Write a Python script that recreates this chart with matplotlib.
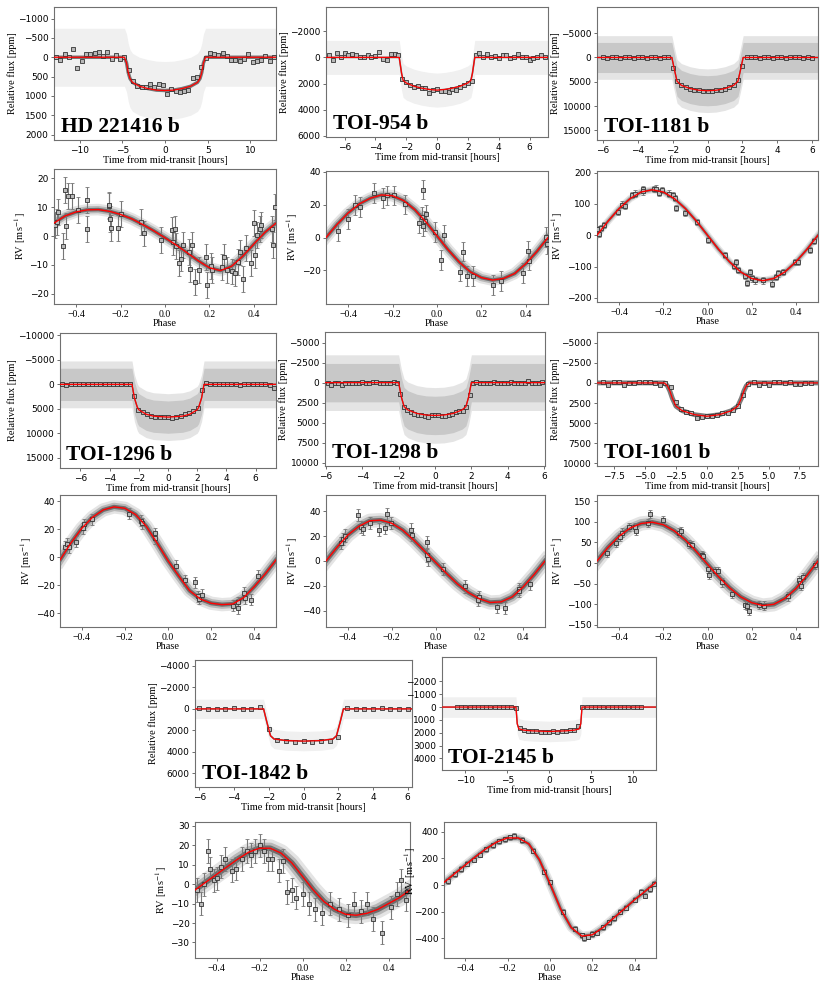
import numpy as np
import matplotlib
matplotlib.use('Agg')
import matplotlib.pyplot as plt

plt.rcParams['font.family'] = 'DejaVu Sans'
plt.rcParams['mathtext.fontset'] = 'stix'
plt.rcParams['axes.linewidth'] = 0.8
plt.rcParams['axes.edgecolor'] = '#707070'

SERIF = 'Liberation Serif'

# ---------------- transit data ----------------
# HD 221416 b
hd_tm = [-13, -4.75, -4.5, -4.3, -4.1, -3.8, -3, -2, -1, 0, 1, 2, 3, 3.8, 4.1, 4.3, 4.5, 4.75, 13]
hd_fm = [0, 0, 150, 400, 550, 650, 750, 810, 850, 860, 850, 810, 750, 650, 550, 400, 150, 0, 0]
hd_tb = np.arange(-12.75, 12.8, 0.5)
hd_fb = [0, 60, -85, 0, -220, 270, 85, -85, -95, -110, -135, -25, -135, 40, -70, 35, 0,
         340, 620, 750, 770, 760, 700, 780, 690, 720, 940, 820, 880, 900, 880, 840, 540, 520, 260,
         20, -100, -95, -70, -120, -25, 60, 60, 95, 35, -95, 130, 85, 75, -25, 85, 0]

# TOI-954 b
t954_tm = [-7.2, -2.45, -2.3, -2.2, -2.0, -1.5, -1.0, -0.5, 0, 0.5, 1.0, 1.5, 2.0, 2.2, 2.3, 2.45, 7.2]
t954_fm = [0, 0, 1200, 1750, 1950, 2200, 2350, 2450, 2500, 2450, 2350, 2200, 1950, 1750, 1200, 0, 0]
t954_tb = np.arange(-7.0, 7.01, 0.25)
t954_fb = [-180, 200, -300, -50, -300, -180, -230, -180, 0, -50, -180, 0, -100, -380, 150, 200, -250, -230, -180,
           1670, 1850, 2100, 2230, 2180, 2300, 2350, 2730, 2480, 2430, 2580, 2530, 2680, 2430, 2480, 2280, 2100, 1980, 1800,
           -180, -300, -50, -230, -50, -100, 80, -180, -150, 80, -50, -250, -50, 0, 200, 80, 0, -180, -50]

# TOI-1181 b
t1181_tm = [-6.4, -2.05, -1.9, -1.75, -1.5, -1.0, -0.5, 0, 0.5, 1.0, 1.5, 1.75, 1.9, 2.05, 6.4]
t1181_fm = [0, 0, 2500, 4900, 5750, 6400, 6750, 6850, 6750, 6400, 5750, 4900, 2500, 0, 0]
t1181_tb = np.arange(-6.0, 6.01, 0.25)
t1181_fb = [0, 20, -30, 0, 10, -20, 0, 30, -10, 0, 20, -20, 0, 10, -10, 0,
            2100, 4860, 5750, 6150, 6400, 6600, 6750, 6850, 6850, 6850, 6750, 6600, 6400, 6150, 5750, 4650, 1700,
            -60, -40, 0, 20, -20, 0, 10, -30, 0, 20, 0, -40, -120, 10, 0, 20]

# TOI-1296 b
t1296_tm = [-7.4, -2.47, -2.3, -2.1, -2.0, -1.5, -1.0, 0, 1.0, 1.5, 2.0, 2.1, 2.3, 2.47, 7.4]
t1296_fm = [0, 0, 2800, 4700, 5200, 6100, 6500, 6700, 6500, 6100, 5200, 4700, 2800, 0, 0]
t1296_tb = np.arange(-25, 26) * 0.29
t1296_fb = [0, 30, 20, 0, -30, 0, 20, -20, 10, 0, -20, -30, 0, 20, -10, 0, 10,
            2300, 5200, 5750, 6150, 6440, 6580, 6640, 6640, 6640, 6780, 6640, 6440, 6160, 5820, 5480, 4800, 1200,
            -200, -100, 0, 20, -30, 0, 10, 0, 30, 0, -20, 10, 0, 20, -30, 60, 700]

# TOI-1298 b
t1298_tm = [-6.1, -2.0, -1.85, -1.7, -1.5, -1.0, -0.5, 0, 0.5, 1.0, 1.5, 1.7, 1.85, 2.0, 6.1]
t1298_fm = [0, 0, 1800, 3000, 3400, 3850, 4050, 4100, 4050, 3850, 3400, 3000, 1800, 0, 0]
t1298_tb = np.arange(-31, 32) * 0.19
t1298_fb = [0, 250, 0, 0, 250, 0, 0, 0, 0, 0, -100, 100, 0, -100, -100, 0, 50, 0, 0, -50, 0,
            1400, 3000, 3450, 3700, 3900, 4000, 4080, 4170, 4290, 4080, 4000, 4080, 4170, 4170, 4000, 3875, 3670,
            3580, 3500, 3040, 1500,
            0, -50, 0, 50, 0, 0, -50, 50, 0, 0, 0, -50, 0, 0, 0, 0, -200, 0, 50, 0, -50]

# TOI-1601 b
t1601_tm = [-9, -3.45, -3.2, -3.0, -2.8, -2.5, -2.0, -1, 0, 1, 2.0, 2.5, 2.8, 3.0, 3.2, 3.45, 9]
t1601_fm = [0, 0, 350, 1000, 1900, 2900, 3450, 3950, 4150, 3950, 3450, 2900, 1900, 1000, 350, 0, 0]
t1601_tb = -8.4 + 0.42 * np.arange(41)
t1601_fb = [-80, 250, -80, -80, 210, 0, 0, -80, -80, -80, 0, 250,
            0, 500, 2400, 3300, 3580, 3790, 4420, 4290, 4170, 4170, 4000, 3800, 3700, 3400, 2900, 1500, 130,
            -80, 250, 0, 250, -80, -170, 0, -80, 125, 80, 0, 0]

# TOI-1842 b
t1842_tm = [-6.3, -2.3, -2.1, -1.9, -1.7, -1, 0, 1, 1.7, 1.9, 2.1, 2.3, 6.3]
t1842_fm = [0, 0, 1300, 2500, 2800, 2950, 3000, 2950, 2800, 2500, 1300, 0, 0]
t1842_tb = np.arange(-6.0, 6.01, 0.5)
t1842_fb = [-50, 0, 50, 0, -100, 0, 30, -200, 1900, 2900, 3000, 3050, 2950, 3050, 3000, 2950, 2600,
            -100, 0, 50, 0, -50, 0, 30, 0]

# TOI-2145 b
t2145_tm = [-12.8, -3.95, -3.8, -3.6, -3.0, -2, 0, 2, 3.0, 3.6, 3.8, 3.95, 12.8]
t2145_fm = [0, 0, 1300, 1700, 1800, 1850, 1900, 1850, 1800, 1700, 1300, 0, 0]
t2145_tb = np.arange(-11.0, 11.01, 0.5)
t2145_fb = [0, -30, 20, 0, -40, 0, 30, 0, -20, 10, 0, -30, 20, 0, 100,
            1600, 1800, 1850, 1900, 1880, 1920, 1930, 1950, 1900, 1920, 1880, 1850, 1800, 1750, 1500,
            0, -20, 0, 30, -10, 0, 20, 0, -30, 10, 0, 20, -20, 0, 30]

# ---------------- RV data ----------------
phase_grid = np.arange(-0.5, 0.501, 0.05)

hd_rvm = [4.5, 7, 8.4, 9.1, 9.2, 8.6, 7.5, 6, 4, 1.8, -0.6, -3.1, -5.8, -8.6, -11, -12, -10.5, -7, -2.8, 1.3, 4.5]
hd_ph = [-0.494, -0.488, -0.483, -0.46, -0.451, -0.445, -0.435, -0.417, -0.392, -0.352, -0.35, -0.254, -0.252,
         -0.249, -0.245, -0.211, -0.196, -0.106, -0.095, -0.02, 0.03, 0.035, 0.044, 0.048, 0.065, 0.074, 0.08,
         0.107, 0.113, 0.121, 0.136, 0.154, 0.186, 0.189, 0.207, 0.211, 0.257, 0.267, 0.279, 0.3, 0.314, 0.329,
         0.34, 0.35, 0.367, 0.388, 0.403, 0.406, 0.415, 0.427, 0.433, 0.483, 0.487, 0.495]
hd_rv = [3.9, 4.8, 8.3, -3.4, 16.1, 3.4, 13.8, 13.8, 8.9, 12.6, 2.6, 10.3, 10.9, 6.0, 2.9, 2.9, 7.7, 4.9, 0.9,
         -1.5, 2.0, -2.1, 2.5, -3.4, -9.2, -7.8, -3.0, -5.5, -11.3, -3.2, -15.9, -11.7, -7.2, -16.9, -10.3,
         -11.7, -10.7, -7.2, -11.7, -12.3, -12.9, -9.0, -5.7, -14.9, -4.0, -9.4, 4.6, -6.6, 0.3, 2.3, 4.0, 2.5,
         -3.2, 10.1]

t954_rvm = [0, 8, 15, 20.5, 24, 26, 25.5, 22.5, 17, 9.5, 1, -7.5, -15, -21, -24.5, -26, -25, -22, -16, -8.5, 0]
t954_ph = [-0.448, -0.4, -0.371, -0.348, -0.284, -0.245, -0.224, -0.192, -0.146, -0.082, -0.067, -0.064, -0.062,
           -0.055, -0.048, -0.008, 0.019, 0.033, 0.105, 0.117, 0.133, 0.163, 0.252, 0.288, 0.386, 0.41, 0.415,
           0.493, 0.497]
t954_rv = [3.7, 11.4, 20, 18.6, 27.1, 24.3, 25.7, 25.7, 20.2, 9.0, 12.4, 29.2, 6.9, 10, 14.1, 3.3, -13.7, 1.6,
           -20.8, -8.6, -23.7, -23.7, -28.8, -26.7, -21.8, -8.4, -14.1, 0.2, -3.9]

t1181_rvm = [0, 45, 85, 117, 138, 145, 138, 117, 85, 45, 0, -45, -85, -117, -138, -145, -138, -117, -85, -45, 0]
t1181_ph = [-0.497, -0.494, -0.49, -0.48, -0.468, -0.403, -0.385, -0.373, -0.34, -0.33, -0.294, -0.29, -0.242,
            -0.234, -0.219, -0.204, -0.174, -0.158, -0.149, -0.143, -0.101, -0.048, 0.0, 0.077, 0.122, 0.128,
            0.137, 0.171, 0.178, 0.192, 0.2, 0.213, 0.249, 0.291, 0.312, 0.317, 0.34, 0.397, 0.409, 0.464, 0.484]
t1181_rv = [10, 21, 5, 24, 32, 74, 98, 94, 128, 133, 147, 140, 147, 149, 136, 144, 133, 128, 119, 87, 72, 43,
            -16, -64, -98, -85, -112, -131, -152, -117, -138, -144, -144, -154, -133, -122, -117, -85, -85, -48, -18]

t1296_rvm = [-2, 10, 20.5, 28.5, 33.8, 36, 35, 30.5, 22, 10, -2.5, -13.5, -24, -30, -33, -34, -33.5, -29, -21, -12, -2]
t1296_ph = [-0.475, -0.467, -0.459, -0.425, -0.392, -0.389, -0.35, -0.179, -0.124, -0.12, -0.062, -0.058, 0.036,
            0.078, 0.125, 0.137, 0.143, 0.156, 0.299, 0.322, 0.322, 0.35, 0.358, 0.384, 0.416]
t1296_rv = [7.6, 9.5, 7.1, 11.2, 20.7, 23.6, 27.1, 31, 26, 24.3, 13.6, 17.1, -6.2, -16.7, -18.1, -28.1, -29.8,
            -26.9, -34.8, -32.4, -36.4, -25.7, -29.3, -30.5, -13.3]

t1298_rvm = [0, 11, 21, 28, 32.5, 33, 30.5, 25, 17, 8, -1, -10, -18.5, -25.5, -30.5, -33.5, -33, -29, -21, -11, 0]
t1298_ph = [-0.432, -0.423, -0.412, -0.354, -0.34, -0.333, -0.301, -0.26, -0.232, -0.221, -0.202, -0.11, -0.107,
            -0.041, -0.038, -0.035, 0.034, 0.133, 0.198, 0.195, 0.282, 0.316, 0.379, 0.382, 0.431]
t1298_rv = [14.7, 17.9, 20.5, 37.3, 27.5, 25.9, 30.7, 25.3, 26.7, 38.1, 30.7, 25.3, 21.3, 15.2, 4.5, 1.3, -6.7,
            -20.5, -29.3, -31.2, -37.3, -38.1, -22.7, -24, -18.7]

t1601_rvm = [5, 38, 65, 85, 96, 99, 93, 78, 56, 28, -3, -33, -60, -82, -96, -103, -100, -86, -62, -30, 5]
t1601_ph = [-0.457, -0.415, -0.394, -0.385, -0.355, -0.33, -0.325, -0.27, -0.26, -0.202, -0.13, -0.12, -0.085,
            -0.07, -0.027, -0.019, 0.003, 0.007, 0.034, 0.049, 0.064, 0.112, 0.169, 0.18, 0.187, 0.232, 0.255,
            0.364, 0.415, 0.419, 0.424, 0.434, 0.487]
t1601_rv = [24, 48, 63, 74, 87, 87, 77, 98, 119, 105, 74, 77, 47, 44, 20, 16, -15, -28, -20, -20, -47, -74,
            -101, -103, -115, -101, -103, -81, -42, -48, -56, -34, -4]

t1842_rvm = [-3, 1, 5, 9, 13, 16.5, 18.5, 18.5, 16, 11, 4, -3, -9, -13, -15.5, -16, -15, -13, -10, -7, -3]
t1842_ph = [-0.49, -0.47, -0.46, -0.44, -0.43, -0.41, -0.40, -0.38, -0.36, -0.33, -0.31, -0.28, -0.26, -0.24,
            -0.22, -0.20, -0.18, -0.16, -0.14, -0.11, -0.09, -0.07, -0.05, -0.03, 0.0, 0.03, 0.06, 0.09, 0.13,
            0.17, 0.21, 0.24, 0.27, 0.30, 0.33, 0.37, 0.41, 0.44, 0.46, 0.48]
t1842_rv = [-3, -10, 0, 17, 8, 2, 3, 9, 13, 7, 8, 13, 17, 15, 17, 20, 17, 13, 13, 7, 12, -4, -3, -7, -5, -10,
            -13, -15, -10, -13, -16, -10, -14, -10, -18, -25, -12, -5, 2, -8]

t2145_rvm = [20, 85, 150, 215, 275, 325, 355, 355, 310, 190, 10, -180, -320, -385, -375, -320, -250, -180, -110, -45, 20]
t2145_ph = [-0.48, -0.45, -0.42, -0.39, -0.36, -0.33, -0.3, -0.27, -0.24, -0.21, -0.19, -0.17, -0.13, -0.08,
            -0.03, 0.0, 0.06, 0.12, 0.15, 0.16, 0.18, 0.2, 0.22, 0.25, 0.28, 0.3, 0.33, 0.36, 0.4, 0.43, 0.45,
            0.47, 0.49]
t2145_rv = [30, 80, 120, 160, 190, 230, 270, 300, 330, 345, 360, 370, 340, 260, 100, 20, -200, -330, -380,
            -400, -390, -370, -360, -320, -280, -250, -200, -170, -110, -50, -80, -30, 10]

W, H = 830, 986
fig = plt.figure(figsize=(W / 100, H / 100), dpi=100)


def box(x0, y0, x1, y1):
    return fig.add_axes([x0 / W, 1 - y1 / H, (x1 - x0) / W, (y1 - y0) / H])


def style(ax, serif_x):
    ax.tick_params(direction='out', length=2.5, width=0.6, color='#555555', labelsize=6.5, pad=1.5)
    for lab in ax.get_yticklabels():
        lab.set_fontfamily('DejaVu Sans')
    if serif_x:
        for lab in ax.get_xticklabels():
            lab.set_fontfamily(SERIF)
            lab.set_fontsize(7)


def transit(ax, tm, fm, tb, fb, noise, dense, xlim, ylim, yticks, xticks, name, band=2.0, ylab=True):
    tm = np.array(tm)
    fm = np.array(fm)
    if dense:
        ax.fill_between(tm, fm - noise * 1.45, fm + noise * 1.45, color='#e4e4e4', lw=0, zorder=1)
        ax.fill_between(tm, fm - noise, fm + noise, color='#c8c8c8', lw=0, zorder=1)
    elif noise > 0:
        ax.fill_between(tm, fm - noise, fm + noise, color='#f0f0f0', lw=0, zorder=1)
    ax.plot(tm, fm, color='#444444', lw=band, alpha=0.7, zorder=2)
    ax.plot(tb, fb, 's', ms=3.0, mfc='#b8b8b8', mec='#333333', mew=0.6, zorder=3)
    ax.plot(tm, fm, color='red', lw=0.9, zorder=4)
    ax.set_xlim(xlim)
    ax.set_ylim(ylim)
    ax.set_xticks(xticks)
    ax.set_yticks(yticks)
    ax.set_xlabel('Time from mid-transit [hours]', family=SERIF, fontsize=7.5, labelpad=0.5)
    if ylab:
        ax.set_ylabel('Relative flux [ppm]', family=SERIF, fontsize=7.5, labelpad=1)
    ax.text(0.03, 0.02, name, transform=ax.transAxes, family=SERIF, fontweight='bold',
            fontsize=15.5, va='bottom', ha='left', zorder=6)
    style(ax, False)


def rv(ax, model, ph, v, err, ylim, yticks, spread, labpos=None):
    for lw, c in [(spread * 3.2, '#e4e4e4'), (spread * 2.0, '#b8b8b8'), (spread, '#6e6e6e')]:
        ax.plot(phase_grid, model, color=c, lw=lw, zorder=1)
    ax.errorbar(ph, v, yerr=err, fmt='s', ms=3.0, mfc='#b8b8b8', mec='#333333', mew=0.6,
                ecolor='#777777', elinewidth=0.8, capsize=1.5, capthick=0.6, zorder=3)
    ax.plot(phase_grid, model, color='red', lw=1.0, zorder=4)
    ax.set_xlim(-0.5, 0.5)
    ax.set_ylim(ylim)
    ax.set_xticks([-0.4, -0.2, 0.0, 0.2, 0.4])
    ax.set_yticks(yticks)
    ax.set_xlabel('Phase', family=SERIF, fontsize=7.5, labelpad=0.5)
    ax.set_ylabel(r'RV [m$\,$s$^{-1}$]', family=SERIF, fontsize=7.5, labelpad=1)
    if labpos is not None:
        ax.yaxis.set_label_coords(*labpos)
    style(ax, True)


# row 1
transit(box(54, 7, 276, 140), hd_tm, hd_fm, hd_tb, hd_fb, 750, False, (-13, 13), (2140, -1300),
        [-1000, -500, 0, 500, 1000, 1500, 2000], [-10, -5, 0, 5, 10], 'HD 221416 b', band=2.5)
transit(box(326, 7, 548, 137), t954_tm, t954_fm, t954_tb, t954_fb, 1300, False, (-7.2, 7.2), (6080, -3850),
        [-2000, 0, 2000, 4000, 6000], [-6, -4, -2, 0, 2, 4, 6], 'TOI-954 b', band=1.2)
transit(box(597, 7, 818, 140), t1181_tm, t1181_fm, t1181_tb, t1181_fb, 3100, True, (-6.35, 6.35), (17000, -10400),
        [-5000, 0, 5000, 10000, 15000], [-6, -4, -2, 0, 2, 4, 6], 'TOI-1181 b', band=1.0)

# row 2
rv(box(54, 169, 276, 304), hd_rvm, hd_ph, hd_rv, 4.5, (-23.6, 23.3), [-20, -10, 0, 10, 20], 2.6)
rv(box(326, 171, 548, 304), t954_rvm, t954_ph, t954_rv, 6, (-40.6, 40.6), [-20, 0, 20, 40], 2.6)
rv(box(597, 171, 818, 302), t1181_rvm, t1181_ph, t1181_rv, 10, (-213, 205), [-200, -100, 0, 100, 200], 1.6)

# row 3
transit(box(60, 333, 276, 468), t1296_tm, t1296_fm, t1296_tb, t1296_fb, 3300, True, (-7.4, 7.4), (17100, -10500),
        [-10000, -5000, 0, 5000, 10000, 15000], [-6, -4, -2, 0, 2, 4, 6], 'TOI-1296 b', band=1.0)
transit(box(325, 332, 545, 466), t1298_tm, t1298_fm, t1298_tb, t1298_fb, 2400, True, (-6.05, 6.05), (10420, -6330),
        [-5000, -2500, 0, 2500, 5000, 7500, 10000], [-6, -4, -2, 0, 2, 4, 6], 'TOI-1298 b', band=1.0)
transit(box(597, 332, 818, 466), t1601_tm, t1601_fm, t1601_tb, t1601_fb, 0, False, (-8.9, 9.0), (10330, -6330),
        [-5000, -2500, 0, 2500, 5000, 7500, 10000], [-7.5, -5.0, -2.5, 0.0, 2.5, 5.0, 7.5], 'TOI-1601 b', band=3.5)

# row 4
rv(box(60, 495, 276, 627), t1296_rvm, t1296_ph, t1296_rv, 4, (-50, 44.5), [-40, -20, 0, 20, 40], 3.0)
rv(box(326, 495, 545, 627), t1298_rvm, t1298_ph, t1298_rv, 5, (-53.3, 53.3), [-40, -20, 0, 20, 40], 3.2)
rv(box(597, 495, 818, 627), t1601_rvm, t1601_ph, t1601_rv, 10, (-155, 165), [-150, -100, -50, 0, 50, 100, 150], 3.2)

# row 5
transit(box(195, 660, 412, 787), t1842_tm, t1842_fm, t1842_tb, t1842_fb, 900, False, (-6.25, 6.25), (7270, -4550),
        [-4000, -2000, 0, 2000, 4000, 6000], [-6, -4, -2, 0, 2, 4, 6], 'TOI-1842 b', band=1.2)
transit(box(442, 657, 656, 770), t2145_tm, t2145_fm, t2145_tb, t2145_fb, 800, False, (-12.8, 12.8), (4900, -3900),
        [-2000, -1000, 0, 1000, 2000, 3000, 4000], [-10, -5, 0, 5, 10], 'TOI-2145 b', band=1.0, ylab=False)

# row 6
rv(box(195, 822, 410, 958), t1842_rvm, t1842_ph, t1842_rv, 6, (-38, 32), [-30, -20, -10, 0, 10, 20, 30], 4.0)
rv(box(444, 822, 656, 958), t2145_rvm, t2145_ph, t2145_rv, 20, (-550, 475), [-400, -200, 0, 200, 400], 2.0,
   labpos=(-0.125, 0.64))

fig.savefig('out.png', dpi=100)
